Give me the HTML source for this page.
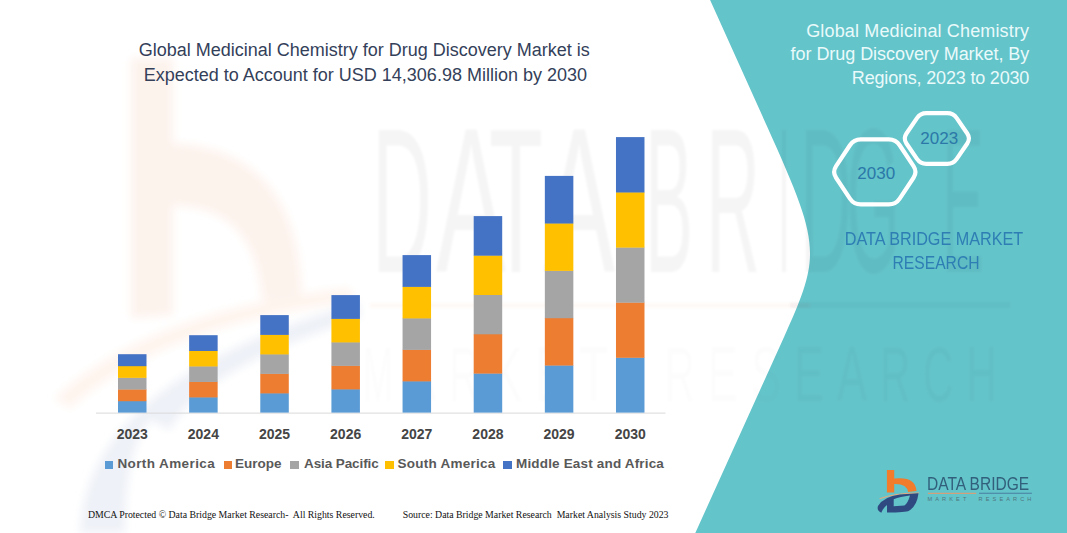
<!DOCTYPE html>
<html><head><meta charset="utf-8">
<style>
html,body{margin:0;padding:0;}
body{width:1067px;height:533px;position:relative;overflow:hidden;background:#fff;font-family:"Liberation Sans",sans-serif;}
.abs{position:absolute;white-space:pre;}
.t1{position:absolute;white-space:pre;font-size:18px;line-height:18px;color:#343f5a;width:600px;text-align:center;}
.rp{position:absolute;white-space:pre;font-size:18px;line-height:18px;color:#eafafa;right:37.8px;text-align:right;}
.yr{position:absolute;top:427px;width:60px;text-align:center;font-size:14px;line-height:14px;font-weight:bold;color:#454545;}
.lg{position:absolute;top:457px;font-size:13.5px;line-height:13.5px;font-weight:bold;color:#595959;white-space:pre;}
.sq{position:absolute;top:461.2px;width:8.5px;height:8.2px;}
.ft{position:absolute;top:510px;font-family:"Liberation Serif",serif;font-size:9.8px;line-height:9.8px;color:#111;white-space:pre;}
</style></head><body>
<svg width="1067" height="533" style="position:absolute;left:0;top:0">
<!-- faint logo watermark -->
<defs><filter id="bl2" x="-20%" y="-20%" width="140%" height="140%"><feGaussianBlur stdDeviation="4"/></filter></defs>
<g filter="url(#bl2)">
<path d="M131,58 L173,58 L173,143 Q300,150 302,300 L262,300 Q255,206 173,206 L173,315 L131,318 Z" fill="#fdf3ed"/>
<path d="M55,398 Q150,310 350,288 L352,302 Q165,324 70,408 Z" fill="#fef4ee"/>
<path d="M80,533 Q85,380 360,302 L360,318 Q200,370 170,430 L150,420 Q125,450 125,533 Z" fill="#eef1f7"/>
</g>
<path d="M710.1,0 L766.89,126 C820.86,245.75 821.53,254.23 783.6,338 L695.3,533 L1067,533 L1067,0 Z" fill="#63c4ca"/>
<!-- watermark DATABRIDGE -->
<defs><filter id="bl" x="-5%" y="-5%" width="110%" height="110%"><feGaussianBlur stdDeviation="1.2"/></filter></defs>
<g filter="url(#bl)">
<g fill="#000" fill-opacity="0.04" font-family="Liberation Sans" font-size="206"><text x="372" y="272" textLength="60" lengthAdjust="spacingAndGlyphs">D</text><text x="436" y="272" textLength="70" lengthAdjust="spacingAndGlyphs">A</text><text x="489" y="272" textLength="54" lengthAdjust="spacingAndGlyphs">T</text><text x="543" y="272" textLength="72" lengthAdjust="spacingAndGlyphs">A</text><text x="645" y="272" textLength="48" lengthAdjust="spacingAndGlyphs">B</text><text x="706" y="272" textLength="54" lengthAdjust="spacingAndGlyphs">R</text><text x="778" y="272" textLength="12" lengthAdjust="spacingAndGlyphs">I</text><text x="800" y="272" textLength="52" lengthAdjust="spacingAndGlyphs">D</text><text x="846" y="272" textLength="54" lengthAdjust="spacingAndGlyphs">G</text><text x="942" y="272" textLength="42" lengthAdjust="spacingAndGlyphs">E</text></g>
<rect x="370" y="303" width="440" height="5" fill="#ed7d31" fill-opacity="0.035"/><rect x="790" y="302" width="220" height="6" fill="#000" fill-opacity="0.03"/>
<g fill="#000" font-family="Liberation Sans"><text x="363.0" y="401" font-size="77" textLength="30" lengthAdjust="spacingAndGlyphs" fill-opacity="0.013">M</text><text x="406.1" y="401" font-size="77" textLength="30" lengthAdjust="spacingAndGlyphs" fill-opacity="0.013">A</text><text x="449.2" y="401" font-size="77" textLength="30" lengthAdjust="spacingAndGlyphs" fill-opacity="0.013">R</text><text x="492.3" y="401" font-size="77" textLength="30" lengthAdjust="spacingAndGlyphs" fill-opacity="0.013">K</text><text x="535.4" y="401" font-size="77" textLength="30" lengthAdjust="spacingAndGlyphs" fill-opacity="0.013">E</text><text x="578.5" y="401" font-size="77" textLength="30" lengthAdjust="spacingAndGlyphs" fill-opacity="0.013">T</text><text x="664.7" y="401" font-size="77" textLength="30" lengthAdjust="spacingAndGlyphs" fill-opacity="0.013">R</text><text x="707.8" y="401" font-size="77" textLength="30" lengthAdjust="spacingAndGlyphs" fill-opacity="0.013">E</text><text x="750.9" y="401" font-size="77" textLength="30" lengthAdjust="spacingAndGlyphs" fill-opacity="0.013">S</text><text x="794.0" y="401" font-size="77" textLength="30" lengthAdjust="spacingAndGlyphs" fill-opacity="0.028">E</text><text x="837.1" y="401" font-size="77" textLength="30" lengthAdjust="spacingAndGlyphs" fill-opacity="0.028">A</text><text x="880.2" y="401" font-size="77" textLength="30" lengthAdjust="spacingAndGlyphs" fill-opacity="0.028">R</text><text x="923.3" y="401" font-size="77" textLength="30" lengthAdjust="spacingAndGlyphs" fill-opacity="0.028">C</text><text x="966.4" y="401" font-size="77" textLength="30" lengthAdjust="spacingAndGlyphs" fill-opacity="0.028">H</text></g></g>
<line x1="96" y1="413.1" x2="665.5" y2="413.1" stroke="#d9d9d9" stroke-width="1"/>
<rect x="118.00" y="400.92" width="28.5" height="11.68" fill="#5b9bd5"/>
<rect x="118.00" y="389.24" width="28.5" height="11.98" fill="#ed7d31"/>
<rect x="118.00" y="377.56" width="28.5" height="11.98" fill="#a5a5a5"/>
<rect x="118.00" y="365.88" width="28.5" height="11.98" fill="#ffc000"/>
<rect x="118.00" y="354.20" width="28.5" height="11.98" fill="#4472c4"/>
<rect x="189.14" y="397.12" width="28.5" height="15.48" fill="#5b9bd5"/>
<rect x="189.14" y="381.64" width="28.5" height="15.78" fill="#ed7d31"/>
<rect x="189.14" y="366.16" width="28.5" height="15.78" fill="#a5a5a5"/>
<rect x="189.14" y="350.68" width="28.5" height="15.78" fill="#ffc000"/>
<rect x="189.14" y="335.20" width="28.5" height="15.78" fill="#4472c4"/>
<rect x="260.28" y="393.10" width="28.5" height="19.50" fill="#5b9bd5"/>
<rect x="260.28" y="373.60" width="28.5" height="19.80" fill="#ed7d31"/>
<rect x="260.28" y="354.10" width="28.5" height="19.80" fill="#a5a5a5"/>
<rect x="260.28" y="334.60" width="28.5" height="19.80" fill="#ffc000"/>
<rect x="260.28" y="315.10" width="28.5" height="19.80" fill="#4472c4"/>
<rect x="331.42" y="389.10" width="28.5" height="23.50" fill="#5b9bd5"/>
<rect x="331.42" y="365.60" width="28.5" height="23.80" fill="#ed7d31"/>
<rect x="331.42" y="342.10" width="28.5" height="23.80" fill="#a5a5a5"/>
<rect x="331.42" y="318.60" width="28.5" height="23.80" fill="#ffc000"/>
<rect x="331.42" y="295.10" width="28.5" height="23.80" fill="#4472c4"/>
<rect x="402.56" y="381.10" width="28.5" height="31.50" fill="#5b9bd5"/>
<rect x="402.56" y="349.60" width="28.5" height="31.80" fill="#ed7d31"/>
<rect x="402.56" y="318.10" width="28.5" height="31.80" fill="#a5a5a5"/>
<rect x="402.56" y="286.60" width="28.5" height="31.80" fill="#ffc000"/>
<rect x="402.56" y="255.10" width="28.5" height="31.80" fill="#4472c4"/>
<rect x="473.70" y="373.30" width="28.5" height="39.30" fill="#5b9bd5"/>
<rect x="473.70" y="334.00" width="28.5" height="39.60" fill="#ed7d31"/>
<rect x="473.70" y="294.70" width="28.5" height="39.60" fill="#a5a5a5"/>
<rect x="473.70" y="255.40" width="28.5" height="39.60" fill="#ffc000"/>
<rect x="473.70" y="216.10" width="28.5" height="39.60" fill="#4472c4"/>
<rect x="544.84" y="365.26" width="28.5" height="47.34" fill="#5b9bd5"/>
<rect x="544.84" y="317.92" width="28.5" height="47.64" fill="#ed7d31"/>
<rect x="544.84" y="270.58" width="28.5" height="47.64" fill="#a5a5a5"/>
<rect x="544.84" y="223.24" width="28.5" height="47.64" fill="#ffc000"/>
<rect x="544.84" y="175.90" width="28.5" height="47.64" fill="#4472c4"/>
<rect x="615.98" y="357.50" width="28.5" height="55.10" fill="#5b9bd5"/>
<rect x="615.98" y="302.40" width="28.5" height="55.40" fill="#ed7d31"/>
<rect x="615.98" y="247.30" width="28.5" height="55.40" fill="#a5a5a5"/>
<rect x="615.98" y="192.20" width="28.5" height="55.40" fill="#ffc000"/>
<rect x="615.98" y="137.10" width="28.5" height="55.40" fill="#4472c4"/>
<path d="M916.96,118.15 Q920.35,113.20 926.35,113.20 L947.35,113.20 Q953.35,113.20 956.74,118.15 L967.26,133.55 Q970.65,138.50 967.26,143.45 L956.74,158.85 Q953.35,163.80 947.35,163.80 L926.35,163.80 Q920.35,163.80 916.96,158.85 L906.44,143.45 Q903.05,138.50 906.44,133.55 Z" fill="none" stroke="#fff" stroke-width="4.2"/>
<path d="M849.93,145.28 Q853.80,139.45 860.80,139.45 L888.80,139.45 Q895.80,139.45 899.67,145.28 L913.53,166.12 Q917.40,171.95 913.53,177.78 L899.67,198.62 Q895.80,204.45 888.80,204.45 L860.80,204.45 Q853.80,204.45 849.93,198.62 L836.07,177.78 Q832.20,171.95 836.07,166.12 Z" fill="none" stroke="#fff" stroke-width="4.2"/>
<!-- logo -->
<path d="M886.9,470 L894.2,470 L894.2,478.5 Q915.5,476 916.5,491 L908,492 Q907,483.5 894.2,484 L894.2,492.4 L886.9,492.4 Z" fill="#f07c2c"/>
<path d="M879.6,498.7 Q895,493 919,493" fill="none" stroke="#e9a77a" stroke-width="1"/>
<path d="M878,506 Q884,496.5 900,494.6 L918.5,493.3 Q917,506 909,510.8 Q906,512.6 887,512.6 L887,505 Q883,508 881.3,512.8 Q876.5,510.5 878,506 Z M893.7,499.3 Q900,496.6 910,495.5 Q908,503 904.4,505.6 L893.7,506.2 Z" fill="#2f4a80" fill-rule="evenodd"/>
<line x1="927.9" y1="493.4" x2="976.2" y2="493.4" stroke="#d4a07c" stroke-width="1.1"/>
<line x1="979" y1="493.2" x2="1031.9" y2="493.2" stroke="#4a7ea0" stroke-width="1.1"/>
</svg>
<div class="t1" style="left:64.3px;top:41.4px">Global Medicinal Chemistry for Drug Discovery Market is</div>
<div class="t1" style="left:65.35px;top:65.8px">Expected to Account for USD 14,306.98 Million by 2030</div>
<div class="rp" style="top:21.6px;letter-spacing:0.15px">Global Medicinal Chemistry</div>
<div class="rp" style="top:45.4px;letter-spacing:-0.05px">for Drug Discovery Market, By</div>
<div class="rp" style="top:69px;letter-spacing:-0.18px">Regions, 2023 to 2030</div>
<div class="abs" style="left:839.2px;top:130.3px;width:200px;text-align:center;font-size:17px;line-height:17px;color:#2b78a8">2023</div>
<div class="abs" style="left:776.25px;top:164.8px;width:200px;text-align:center;font-size:17px;line-height:17px;color:#2b78a8">2030</div>
<div class="abs" style="left:734.4px;top:230px;width:400px;text-align:center;font-size:18px;line-height:18px;color:#2e7eb4;transform:scaleX(0.9)">DATA BRIDGE MARKET</div>
<div class="abs" style="left:736px;top:253.6px;width:400px;text-align:center;font-size:18px;line-height:18px;color:#2e7eb4;transform:scaleX(0.87)">RESEARCH</div>
<div class="abs" style="left:927px;top:474.6px;font-size:18.5px;line-height:18.5px;color:#32607c;transform-origin:0 0;transform:scaleX(0.84)">DATA BRIDGE</div>
<div class="abs" style="left:927.5px;top:496.5px;font-size:5.6px;line-height:5.6px;color:#4f7680;letter-spacing:3.1px">MARKET  RESEARCH</div>
<div class="yr" style="left:102.25px">2023</div>
<div class="yr" style="left:173.39px">2024</div>
<div class="yr" style="left:244.53px">2025</div>
<div class="yr" style="left:315.67px">2026</div>
<div class="yr" style="left:386.81px">2027</div>
<div class="yr" style="left:457.95px">2028</div>
<div class="yr" style="left:529.09px">2029</div>
<div class="yr" style="left:600.23px">2030</div>
<div class="sq" style="left:104.7px;background:#5b9bd5"></div>
<div class="lg" style="left:117.4px;letter-spacing:0.4px">North America</div>
<div class="sq" style="left:223.7px;background:#ed7d31"></div>
<div class="lg" style="left:234.9px">Europe</div>
<div class="sq" style="left:290.3px;background:#a5a5a5"></div>
<div class="lg" style="left:304px;letter-spacing:-0.1px">Asia Pacific</div>
<div class="sq" style="left:385.3px;background:#ffc000"></div>
<div class="lg" style="left:397.6px;letter-spacing:0.24px">South America</div>
<div class="sq" style="left:503.4px;background:#4472c4"></div>
<div class="lg" style="left:516px;letter-spacing:0.17px">Middle East and Africa</div>
<div class="ft" style="left:87.9px">DMCA Protected © Data Bridge Market Research-  All Rights Reserved.</div>
<div class="ft" style="left:402.7px">Source: Data Bridge Market Research  Market Analysis Study 2023</div>
</body></html>
